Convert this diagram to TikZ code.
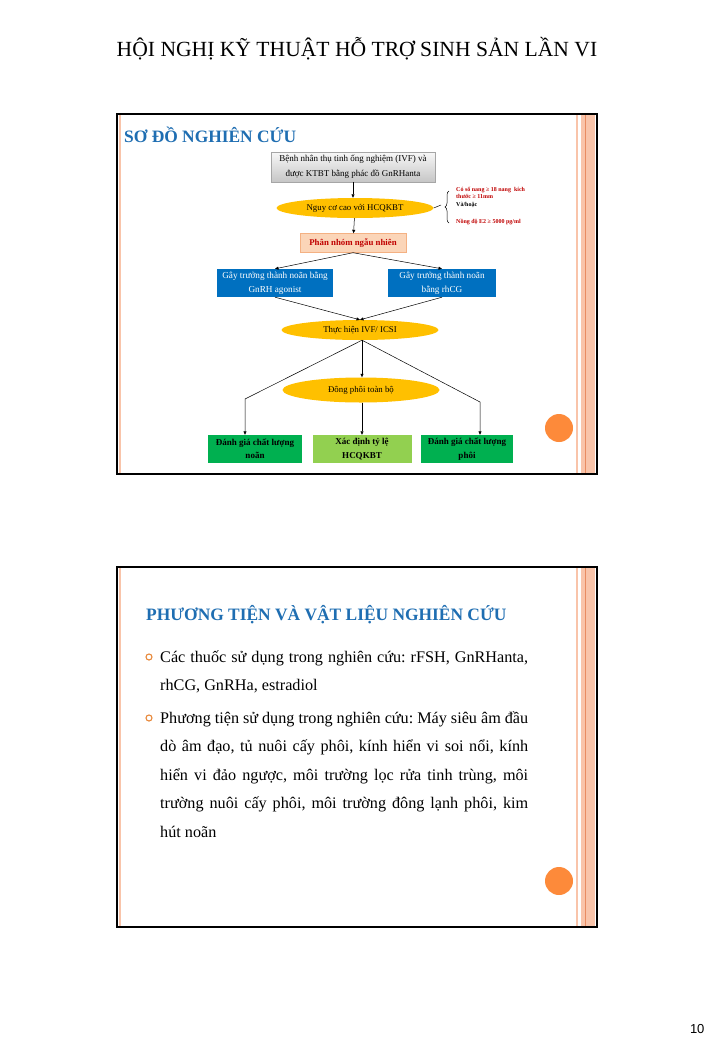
\documentclass[tikz,border=0pt]{standalone}
\usepackage{fontspec}
\setmainfont{Liberation Serif}
\newfontfamily\numfont{Liberation Sans}
\usetikzlibrary{arrows.meta,positioning,shapes.geometric,decorations.pathreplacing}
\frenchspacing
\definecolor{sltitle}{HTML}{1F6EB2}
\definecolor{slgold}{HTML}{FFC000}
\definecolor{slblue}{HTML}{0070C0}
\definecolor{slgreen}{HTML}{00B050}
\definecolor{sllime}{HTML}{92D050}
\definecolor{slpeach}{HTML}{FBD5B8}
\definecolor{slpeachd}{HTML}{F4B183}
\definecolor{slred}{HTML}{C00000}
\definecolor{slpink}{HTML}{F9C4AA}
\definecolor{slpinkd}{HTML}{E98C62}
\definecolor{slorange}{HTML}{FD8A3A}
\definecolor{slring}{HTML}{E8883A}
\tikzset{
  greybox/.style={draw=gray!70,top color=gray!6,bottom color=gray!45,align=center,
              minimum width=164pt,minimum height=30pt,inner sep=1pt,
              font=\fontsize{9}{15}\selectfont},
  oval/.style={ellipse,fill=slgold,minimum width=157pt,minimum height=20pt,
              inner sep=0pt,font=\fontsize{8.8}{10}\selectfont},
  peachbox/.style={draw=slpeachd,fill=slpeach,minimum width=106pt,minimum height=19pt,
              inner sep=1pt,text=slred,font=\bfseries\fontsize{8.8}{10}\selectfont},
  bluebox/.style={fill=slblue,text=white,align=center,minimum height=28pt,
              inner sep=1pt,font=\fontsize{9.2}{14}\selectfont},
  greenbox/.style={fill=slgreen,align=center,minimum height=28pt,minimum width=94pt,
              inner sep=1pt,font=\bfseries\fontsize{9}{13.5}\selectfont},
  note/.style={anchor=west,align=left,inner sep=0pt,text=slred,
              font=\bfseries\fontsize{6}{7.5}\selectfont},
  ar/.style={-{Triangle[length=3.5pt,width=3pt]},line width=0.5pt},
  ln/.style={line width=0.5pt},
  sltitlefont/.style={anchor=base west,inner sep=0pt,text=sltitle,
              font=\bfseries\fontsize{17.4}{19}\selectfont},
  ring/.style={circle,draw=slring,line width=1.1pt,minimum size=6pt,inner sep=0pt},
  dot/.style={circle,fill=slorange,minimum size=28pt,inner sep=0pt},
  para/.style={anchor=base west,inner sep=0pt,text width=368pt,align=justify,
              font=\fontsize{16.2}{28.6}\selectfont},
}
\begin{document}
\begin{tikzpicture}[x=1pt,y=-1pt]
  \useasboundingbox[fill=white] (0,0) rectangle (714,1042);
  \node[font=\fontsize{21.6}{26}\selectfont,anchor=base] (head) at (357,56)
    {HỘI NGHỊ KỸ THUẬT HỖ TRỢ SINH SẢN LẦN VI};
  % slide frames
  \foreach \y in {114,567}{
    \fill[slpink] (581,\y) rectangle (595,\y+360);
    \draw[slpinkd,line width=0.6pt] (585,\y) -- (585,\y+360);
    \draw[slpink,line width=1.5pt] (577,\y) -- (577,\y+360);
    \draw[slpink,line width=1.5pt] (120,\y) -- (120,\y+360);
    \draw[line width=1.6pt] (117,\y) rectangle (597,\y+360);
    \node[dot] at (559,\y+314) {};
  }
  % slide 1
  \node[sltitlefont] (t1) at (124,142) {SƠ ĐỒ NGHIÊN CỨU};
  \node[greybox] (pat) at (353,167) {Bệnh nhân thụ tinh ống nghiệm (IVF) và\\được KTBT bằng phác đồ GnRHanta};
  \node[oval] (risk) at (355,208) {Nguy cơ cao với HCQKBT};
  \coordinate (tip) at (441,205);
  \draw[ln] (risk.east) -- (tip);
  \draw[ln,decorate,decoration={brace,amplitude=4pt}] (449,223) -- (449,191);
  \node[note] (crit) at (456,197) {Có số nang ≥ 18 nang\ \ kích\\thước ≥ 11mm\\{\color{black}Và/hoặc}};
  \node[note] (e2) at (456,222) {Nồng độ E2 ≥ 5000 pg/ml};
  \node[peachbox] (rand) at (353,243) {Phân nhóm ngẫu nhiên};
  \node[bluebox,minimum width=116pt] (gnrh) at (275,283) {Gây trưởng thành noãn bằng\\GnRH agonist};
  \node[bluebox,minimum width=108pt] (hcg) at (442,283) {Gây trưởng thành noãn\\bằng rhCG};
  \node[oval] (ivf) at (360,330) {Thực hiện IVF/ ICSI};
  \node[oval,minimum height=25pt] (frz) at (361,390) {Đông phôi toàn bộ};
  \node[greenbox] (egg) at (255,449) {Đánh giá chất lượng\\noãn};
  \node[greenbox,fill=sllime,minimum width=99pt] (rate) at (362,449) {Xác định tỷ lệ\\HCQKBT};
  \node[greenbox,minimum width=92pt] (emb) at (467,449) {Đánh giá chất lượng\\phôi};
  \draw[ar] (pat) -- (pat|-risk.north);
  \draw[ar] (risk) -- (rand);
  \draw[ar] (rand.south) -- (gnrh.north);
  \draw[ar] (rand.south) -- (hcg.north);
  \draw[ar] (gnrh.south) -- (ivf.north);
  \draw[ar] (hcg.south) -- (ivf.north);
  \draw[ar] (ivf.south) ++(2,0) coordinate (ivfb) -- (ivfb|-frz.north);
  \draw[ar] (ivfb) -- (245,399) -- (egg.north-|245,0);
  \draw[ar] (ivfb) -- (480,402) -- (emb.north-|480,0);
  \draw[ar] (frz.south-|rate) -- (rate.north);
  % slide 2
  \node[sltitlefont] (t2) at (146,620) {PHƯƠNG TIỆN VÀ VẬT LIỆU NGHIÊN CỨU};
  \node[ring] (b1) at (149,657) {};
  \node[para] (p1) at (160,662) {Các thuốc sử dụng trong nghiên cứu: rFSH, GnRHanta,\linebreak rhCG, GnRHa, estradiol};
  \node[ring] (b2) at (149,718) {};
  \node[para] (p2) at (160,723) {Phương tiện sử dụng trong nghiên cứu: Máy siêu âm đầu\linebreak dò âm đạo, tủ nuôi cấy phôi, kính hiển vi soi nổi, kính\linebreak hiển vi đảo ngược, môi trường lọc rửa tinh trùng, môi\linebreak trường nuôi cấy phôi, môi trường đông lạnh phôi, kim\linebreak hút noãn};
  \node[font=\numfont\fontsize{13}{15}\selectfont,anchor=base east] (pg) at (708,1033) {10};
\end{tikzpicture}
\end{document}
